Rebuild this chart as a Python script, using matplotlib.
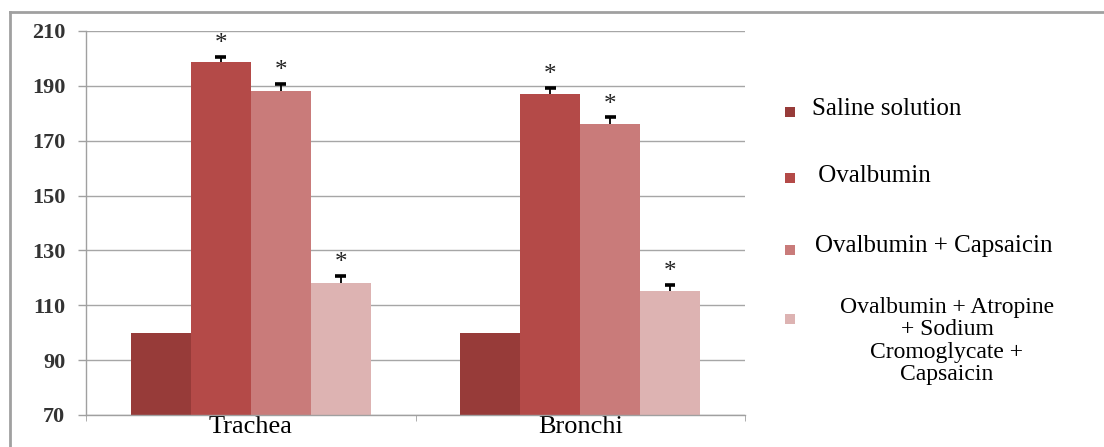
import matplotlib
matplotlib.use("Agg")
import matplotlib.pyplot as plt
from matplotlib.patches import Rectangle
from matplotlib.lines import Line2D
import numpy as np

# Data
categories = ["Trachea", "Bronchi"]
series_labels = [
    "Saline solution",
    " Ovalbumin",
    "Ovalbumin + Capsaicin",
    "Ovalbumin + Atropine\n+ Sodium\nCromoglycate +\nCapsaicin",
]
saline = [100.0, 100.0]
ovalbumin = [198.7, 187.1]
ova_capsaicin = [188.1, 176.0]
ova_atropine = [118.0, 115.3]

ovalbumin_err = [1.8, 2.2]
ova_capsaicin_err = [2.6, 2.5]
ova_atropine_err = [2.7, 2.1]

yticks = [70, 90, 110, 130, 150, 170, 190, 210]

series_values = [saline, ovalbumin, ova_capsaicin, ova_atropine]
series_errors = [None, ovalbumin_err, ova_capsaicin_err, ova_atropine_err]
colors = ["#973B39", "#B44A48", "#C97B7A", "#DDB3B2"]

plt.rcParams["font.family"] = ["Liberation Serif", "DejaVu Serif"]

W, H = 1104, 447
fig = plt.figure(figsize=(W / 100, H / 100), dpi=100)
ax = fig.add_axes([86 / W, 1 - 415 / H, (745 - 86) / W, (415 - 31) / H])

x = np.arange(len(categories))
width = 0.182
offsets = [-1.5, -0.5, 0.5, 1.5]
cap_half = 0.016  # half-width of the error-bar caps, in category units

for vals, errs, col, off in zip(series_values, series_errors, colors, offsets):
    pos = x + off * width
    vals = np.asarray(vals)
    ax.bar(pos, vals - 70, width=width, bottom=70, color=col,
           edgecolor="none", zorder=2)
    if errs is not None:
        tops = vals + np.asarray(errs)
        # upper-only error bars
        ax.vlines(pos, vals, tops, color="black", linewidth=1.3, zorder=3)
        ax.hlines(tops, pos - cap_half, pos + cap_half, color="black",
                  linewidth=2.6, zorder=3)
        for p, t in zip(pos, tops):
            ax.text(p, t + 0.6, "*", ha="center", va="bottom",
                    fontsize=18, color="#222222", zorder=4)

ax.set_xlim(-0.5, len(categories) - 0.5)
ax.set_ylim(70, 210)
ax.set_yticks(yticks)
ax.set_yticklabels([str(t) for t in yticks], fontsize=16, color="#333333",
                   fontweight="bold")
ax.set_xticks(x)
ax.set_xticklabels(categories, fontsize=19)
ax.set_xticks([-0.5, 0.5, 1.5], minor=True)
ax.tick_params(axis="x", which="major", length=0, pad=1)
ax.tick_params(axis="x", which="minor", length=4, color="#A0A0A0", direction="out")
ax.tick_params(axis="y", length=6, color="#A0A0A0", width=1, pad=9)

ax.grid(axis="y", color="#A6A6A6", linewidth=1, zorder=0)
ax.set_axisbelow(True)
for side in ["top", "right"]:
    ax.spines[side].set_visible(False)
for side in ["left", "bottom"]:
    ax.spines[side].set_color("#A0A0A0")
    ax.spines[side].set_linewidth(1)

# Outer chart frame
fig.add_artist(Line2D([10 / W, 1.0], [1 - 12 / H, 1 - 12 / H], transform=fig.transFigure,
                      color="#A0A0A0", linewidth=2))
fig.add_artist(Line2D([10 / W, 10 / W], [0.0, 1 - 12 / H], transform=fig.transFigure,
                      color="#A0A0A0", linewidth=2))

# Legend
marker_y = [112, 178, 250, 319]
baselines = [115, 182, 252, None]
text_x = [812, 812, 815, 947]
for lbl, col, my, base, tx in zip(series_labels, colors, marker_y, baselines, text_x):
    fig.add_artist(Rectangle((785 / W, 1 - (my + 5) / H), 10 / W, 10 / H,
                             transform=fig.transFigure, facecolor=col,
                             edgecolor="none"))
    if base is None:
        fig.text(tx / W, 1 - 297 / H, lbl, ha="center", va="top",
                 multialignment="center", fontsize=17, linespacing=1.08)
    else:
        fig.text(tx / W, 1 - base / H, lbl, ha="left", va="baseline",
                 fontsize=18)

fig.savefig("out.png", dpi=100)
